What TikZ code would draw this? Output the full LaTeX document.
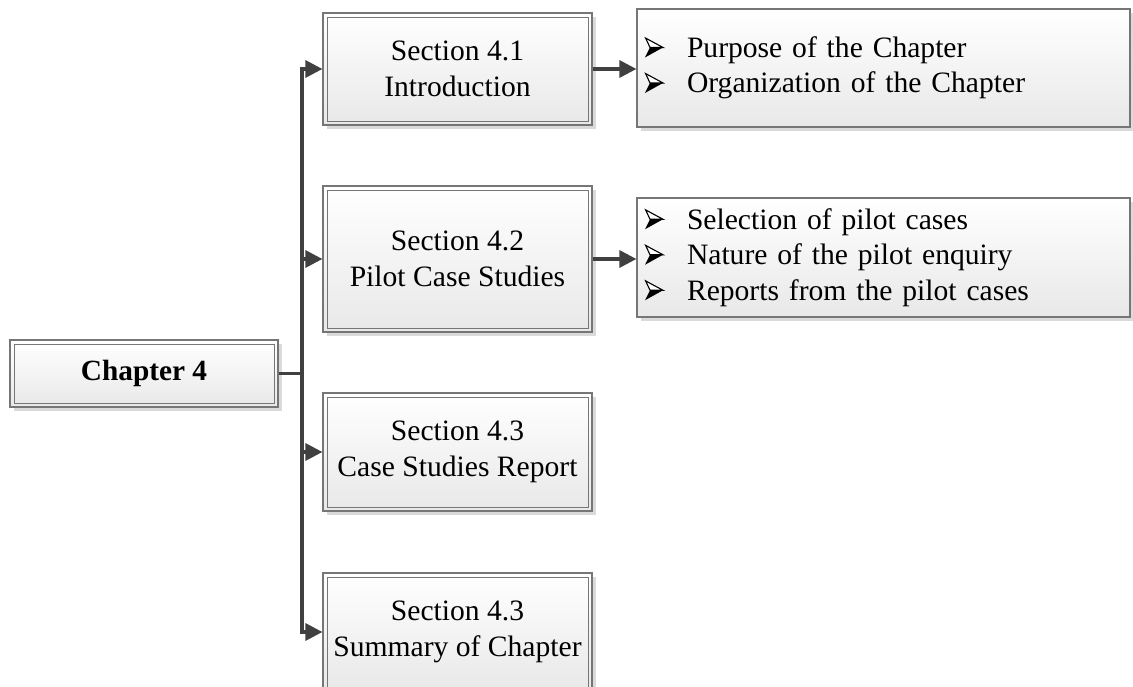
\documentclass[tikz,border=0pt]{standalone}
\usepackage{fontspec}
\setmainfont{Liberation Serif}
\usetikzlibrary{arrows.meta,shadows}
\definecolor{edge}{HTML}{767676}
\definecolor{wire}{HTML}{404040}
\definecolor{shade}{HTML}{DADADA}
% arrowhead bullet: outlined upper half, solid lower half
\newcommand{\dart}{\tikz[x=1pt,y=1pt,baseline=0pt,line join=miter]{%
  \fill[black] (0,0) -- (18,10) -- (5,10) -- cycle;
  \draw[black,line width=1.1pt,fill=white] (0.6,19.4) -- (18,10) -- (5,10) -- cycle;}}
\newcommand{\itm}{\makebox[42pt][l]{\dart}}
\begin{document}
\begin{tikzpicture}[x=1pt,y=-1pt,
  box/.style={rectangle, draw=edge, line width=1.2pt, top color=white,
    bottom color=black!9, inner sep=0pt,
    drop shadow={shadow xshift=4pt, shadow yshift=-4pt, fill=shade, opacity=1}},
  framed/.style={box, align=center,
    path picture={\draw[edge, line width=0.8pt]
      ([shift={(4pt,-4pt)}]path picture bounding box.north west) rectangle
      ([shift={(-4pt,4pt)}]path picture bounding box.south east);}},
  secbox/.style={framed, minimum width=269pt, font=\fontsize{29.6}{35.5}\selectfont},
  listbox/.style={box, minimum width=493pt, text width=477pt, inner xsep=8pt,
    align=left, font=\fontsize{29.6}{35.5}\selectfont},
  wire/.style={draw=wire, line width=3.2pt},
  arr/.style={wire, -{Triangle[length=17pt, width=17pt]}}
]
\clip (0,0) rectangle (1133,687);

% chapter box
\node[framed, minimum width=268pt, minimum height=67pt,
      font=\fontsize{29.3}{35}\selectfont\bfseries] (ch) at (144,373.5) {Chapter 4};

% section boxes
\node[secbox, minimum height=112pt] (s1) at (457.5,69)  {Section 4.1\\Introduction};
\node[secbox, minimum height=146pt] (s2) at (457.5,259) {Section 4.2\\Pilot Case Studies};
\node[secbox, minimum height=118pt] (s3) at (457.5,452) {Section 4.3\\Case Studies Report};
\node[secbox, minimum height=118pt] (s4) at (457.5,632) {Section 4.3\\Summary of Chapter};

% content lists
\node[listbox, minimum height=118pt] (r1) at (883.5,68)
  {\itm Purpose of the Chapter\\\itm Organization of the Chapter};
\node[listbox, minimum height=119pt] (r2) at (883.5,257.5)
  {\itm Selection of pilot cases\\\itm Nature of the pilot enquiry\\\itm Reports from the pilot cases};

% connectors
\coordinate (jn) at (302,373.5);
\draw[wire] (ch.east) -- (jn);
\foreach \s in {s1,s2,s3,s4}
  \draw[arr] (jn) |- (\s.west);
\draw[arr] (s1.east) -- (r1.west |- s1.east);
\draw[arr] (s2.east) -- (r2.west |- s2.east);
\end{tikzpicture}
\end{document}
